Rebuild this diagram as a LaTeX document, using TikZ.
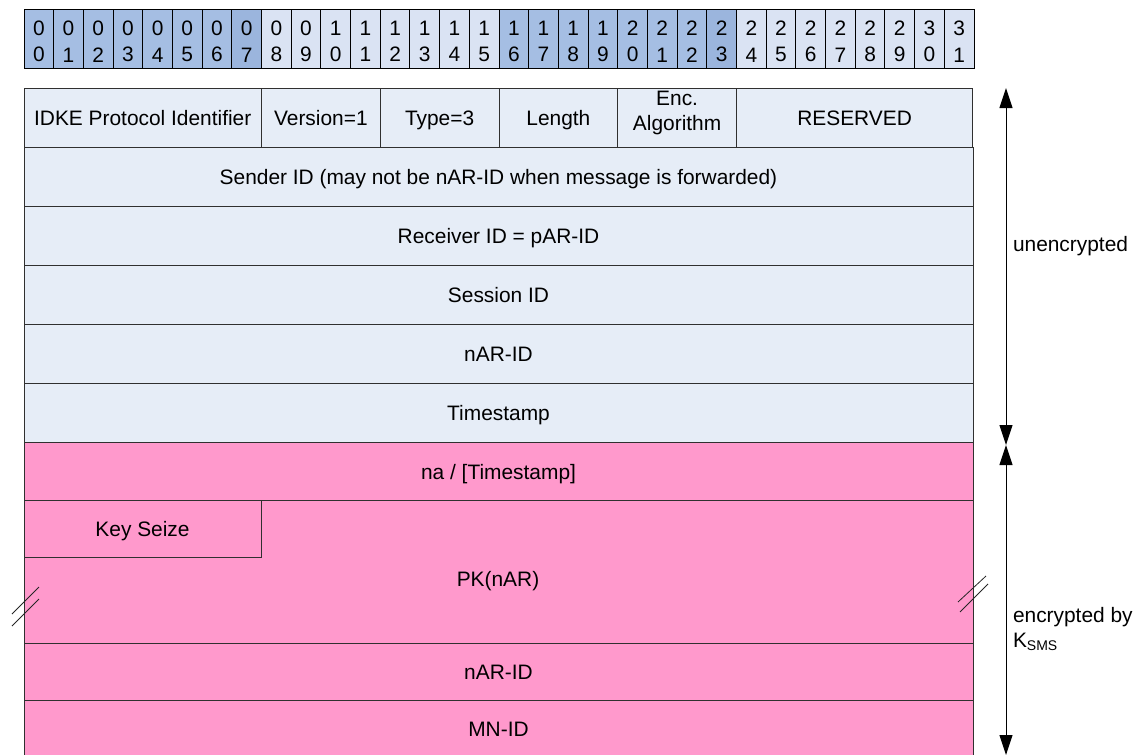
\documentclass[tikz,border=0pt]{standalone}
\usepackage{fontspec}
\setmainfont{Liberation Sans}
\usetikzlibrary{arrows.meta}
\definecolor{hdark}{HTML}{A5BEE3}
\definecolor{hdarker}{HTML}{9BB5DD}
\definecolor{hlight}{HTML}{DAE3F3}
\definecolor{rowblue}{HTML}{E6EDF7}
\definecolor{pinkfill}{HTML}{FF99CC}
\definecolor{edge}{HTML}{303030}
\begin{document}
\begin{tikzpicture}[x=1pt,y=-1pt,
  every node/.style={font=\fontsize{20.9}{24}\selectfont, inner sep=0pt, outer sep=0pt},
  field/.style={draw=edge, line width=1pt, anchor=north west, align=center},
  one/.style={text height=20pt, text depth=4pt},
  bluefield/.style={field, fill=rowblue, minimum height=59pt},
  pinkfield/.style={field, fill=pinkfill},
  bitcell/.style={field, draw=black, minimum width=29.6875pt, minimum height=59pt},
  bitdigits/.style={align=center, font=\fontsize{20.9}{26.6}\selectfont, yshift=-3pt},
  label/.style={anchor=west, align=left, font=\fontsize{20.9}{25}\selectfont},
  span/.style={line width=1pt, {Triangle[length=20pt,width=13pt]}-{Triangle[length=20pt,width=13pt]}},
  brk/.style={line width=0.8pt, draw=black!85}
]
\useasboundingbox (0,0) rectangle (1133,755);

% bit ruler
\foreach \i in {0,...,31}{
  \pgfmathtruncatemacro{\da}{int(\i/10)}
  \pgfmathtruncatemacro{\db}{mod(\i,10)}
  \pgfmathtruncatemacro{\grp}{mod(int(\i/8),2)}
  \pgfmathtruncatemacro{\pos}{mod(\i,8)}
  \ifnum\grp=0
    \ifnum\pos=7 \def\cc{hdarker}\else \def\cc{hdark}\fi
  \else \def\cc{hlight}\fi
  \node[bitcell, fill=\cc] (b\i) at ({24+\i*29.6875}, 9) {};
  \node[bitdigits] (d\i) at (b\i.center) {\da\\\db};
}

% header row of fields
\node[bluefield, one, minimum width=237.5pt] (idke) at (24,88) {IDKE Protocol Identifier};
\node[bluefield, one, minimum width=118.75pt] (ver) at (261.5,88) {Version=1};
\node[bluefield, one, minimum width=118.75pt] (type) at (380.25,88) {Type=3};
\node[bluefield, one, minimum width=118.75pt] (len) at (499,88) {Length};
\node[bluefield, minimum width=118.75pt, font=\fontsize{20.9}{25}\selectfont,
  text height=30.4pt, text depth=4pt] (enc) at (617.75,88) {Enc.\\Algorithm};
\node[bluefield, one, minimum width=236.25pt] (res) at (736.5,88) {RESERVED};

% unencrypted rows
\node[bluefield, one, minimum width=949pt] (sender) at (24,147) {Sender ID (may not be nAR-ID when message is forwarded)};
\node[bluefield, one, minimum width=949pt] (recv) at (24,206) {Receiver ID = pAR-ID};
\node[bluefield, one, minimum width=949pt] (sess) at (24,265) {Session ID};
\node[bluefield, one, minimum width=949pt] (nar) at (24,324) {nAR-ID};
\node[bluefield, one, minimum width=949pt] (ts) at (24,383) {Timestamp};

% encrypted rows
\node[pinkfield, one, minimum width=949pt, minimum height=58pt] (na) at (24,442) {na / [Timestamp]};
\node[pinkfield, minimum width=949pt, minimum height=143pt] (pk) at (24,500) {};
\node[one] (pklabel) at (498,578) {PK(nAR)};
\node[pinkfield, one, minimum width=237pt, minimum height=57pt] (keysize) at (24,500) {Key Seize};
\node[pinkfield, one, minimum width=949pt, minimum height=57pt] (nar2) at (24,643) {nAR-ID};
\node[pinkfield, one, minimum width=949pt, minimum height=57pt] (mn) at (24,700) {MN-ID};

% break marks
\draw[brk] (12,614) -- (39,587);
\draw[brk] (12,626) -- (39,599);
\draw[brk] (958,602) -- (986,576);
\draw[brk] (960,612) -- (988,584);

% span arrows
\coordinate (u1) at (1006,88);
\coordinate (u2) at (1006,445);
\coordinate (e1) at (1006,445);
\coordinate (e2) at (1006,755);
\draw[span] (u1) -- (u2);
\draw[span] (e1) -- (e2);

\node[label] (unenc) at (1013,246) {unencrypted};
\node[label] (encl) at (1013,629) {encrypted by\\K\raisebox{-2.5pt}{\fontsize{14}{14}\selectfont SMS}};
\end{tikzpicture}
\end{document}
